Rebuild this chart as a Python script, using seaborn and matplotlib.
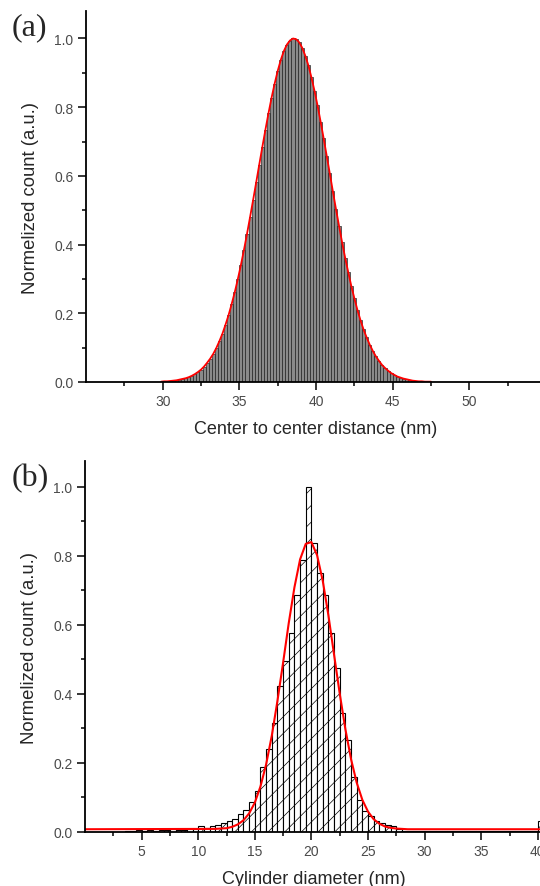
import numpy as np
import pandas as pd
import matplotlib
matplotlib.use('Agg')
import matplotlib.pyplot as plt
from matplotlib.ticker import MultipleLocator, FixedLocator, FormatStrFormatter
import seaborn as sns

# (a) center to center distance, normalized counts in 0.2 nm bins from 29.8 nm
dist_bin_start = 29.8
dist_bin_width = 0.2
dist_counts = [
    0.001, 0.002, 0.002, 0.003, 0.004, 0.005, 0.007, 0.009, 0.011, 0.014,
    0.018, 0.023, 0.029, 0.036, 0.045, 0.056, 0.068, 0.082, 0.099, 0.119,
    0.141, 0.167, 0.195, 0.227, 0.261, 0.299, 0.340, 0.384, 0.431, 0.480,
    0.530, 0.581, 0.633, 0.684, 0.734, 0.782, 0.827, 0.868, 0.905, 0.937,
    0.963, 0.982, 0.994, 1.000, 0.998, 0.989, 0.973, 0.950, 0.922, 0.887,
    0.848, 0.805, 0.758, 0.709, 0.658, 0.607, 0.555, 0.504, 0.455, 0.407,
    0.362, 0.320, 0.280, 0.244, 0.210, 0.180, 0.153, 0.130, 0.109, 0.091,
    0.075, 0.062, 0.050, 0.041, 0.033, 0.026, 0.021, 0.016, 0.013, 0.010,
    0.008, 0.006, 0.004, 0.003, 0.002, 0.002, 0.001, 0.001, 0.001,
]

# (b) cylinder diameter, normalized counts in 0.5 nm bins from 0 nm
diam_bin_start = 0.0
diam_bin_width = 0.5
diam_counts = [
    0.000, 0.000, 0.000, 0.000, 0.000, 0.000, 0.000, 0.003, 0.004, 0.005,
    0.004, 0.006, 0.004, 0.005, 0.005, 0.010, 0.007, 0.006, 0.010, 0.010,
    0.016, 0.013, 0.016, 0.021, 0.026, 0.031, 0.038, 0.052, 0.064, 0.086,
    0.119, 0.188, 0.240, 0.316, 0.423, 0.495, 0.578, 0.688, 0.788, 1.000,
    0.836, 0.751, 0.688, 0.577, 0.476, 0.345, 0.268, 0.160, 0.094, 0.062,
    0.045, 0.031, 0.025, 0.019, 0.016, 0.008, 0.004, 0.003, 0.002, 0.002,
    0.002, 0.003, 0.002, 0.002, 0.003, 0.002, 0.002, 0.003, 0.002, 0.002,
    0.002, 0.002, 0.002, 0.002, 0.002, 0.002, 0.002, 0.002, 0.002, 0.002,
    0.033,
]

# (b) gauss fit (red line)
diam_fit_x = [0, 11.5, 12, 12.5, 13, 13.5, 14, 14.5, 15, 15.5, 16, 16.5, 17, 17.5,
              18, 18.5, 19, 19.5, 20, 20.5, 21, 21.5, 22, 22.5, 23, 23.5, 24,
              24.5, 25, 25.5, 26, 26.5, 27, 27.5, 28, 28.5, 40.5]
diam_fit_y = [0.008, 0.009, 0.010, 0.011, 0.015, 0.022, 0.034, 0.054, 0.085, 0.132,
              0.196, 0.279, 0.380, 0.491, 0.606, 0.709, 0.790, 0.835, 0.840, 0.802,
              0.728, 0.628, 0.514, 0.401, 0.298, 0.211, 0.143, 0.093, 0.059, 0.037,
              0.024, 0.016, 0.012, 0.010, 0.009, 0.008, 0.008]

sns.set_style('ticks')
plt.rcParams['font.family'] = ['Liberation Sans', 'DejaVu Sans']
plt.rcParams['hatch.linewidth'] = 0.5
plt.rcParams['hatch.color'] = '#303030'

fig = plt.figure(figsize=(5.4, 8.87), dpi=100)
ax1 = fig.add_axes([86 / 540, 1 - 383 / 887, 460 / 540, 371 / 887])
ax2 = fig.add_axes([85 / 540, 1 - 833 / 887, 458.5 / 540, 371 / 887])

# panel a
n = len(dist_counts)
a_edges = [dist_bin_start + dist_bin_width * i for i in range(n + 1)]
a_centers = [(a_edges[i] + a_edges[i + 1]) / 2 for i in range(n)]
df_a = pd.DataFrame({'x': a_centers, 'w': dist_counts})
sns.histplot(data=df_a, x='x', weights='w', bins=a_edges, ax=ax1,
             color='#8a8a8a', edgecolor='#1a1a1a', linewidth=0.45, alpha=1)
sns.lineplot(data=df_a, x='x', y='w', ax=ax1, color='red', linewidth=1.3)

# panel b
m = len(diam_counts)
b_edges = [diam_bin_start + diam_bin_width * i for i in range(m + 1)]
b_centers = [(b_edges[i] + b_edges[i + 1]) / 2 for i in range(m)]
df_b = pd.DataFrame({'x': b_centers, 'w': diam_counts})
sns.histplot(data=df_b, x='x', weights='w', bins=b_edges, ax=ax2,
             color='white', edgecolor='black', linewidth=0.8, alpha=1)
for p in ax2.patches:
    p.set_hatch('//')
df_fit = pd.DataFrame({'x': diam_fit_x, 'y': diam_fit_y})
sns.lineplot(data=df_fit, x='x', y='y', ax=ax2, color='red', linewidth=1.5)

ax1.set_xlim(25, 55)
ax1.set_ylim(0, 1.08)
ax1.xaxis.set_major_locator(FixedLocator([30, 35, 40, 45, 50]))
ax1.xaxis.set_minor_locator(FixedLocator([27.5, 32.5, 37.5, 42.5, 47.5, 52.5]))
ax1.set_xlabel('Center to center distance (nm)')

ax2.set_xlim(0, 40.5)
ax2.set_ylim(0, 1.075)
ax2.xaxis.set_major_locator(FixedLocator([5, 10, 15, 20, 25, 30, 35, 40]))
ax2.xaxis.set_minor_locator(FixedLocator([2.5, 7.5, 12.5, 17.5, 22.5, 27.5, 32.5, 37.5]))
ax2.set_xlabel('Cylinder diameter (nm)')

for ax in (ax1, ax2):
    ax.yaxis.set_major_locator(MultipleLocator(0.2))
    ax.yaxis.set_minor_locator(MultipleLocator(0.1))
    ax.yaxis.set_major_formatter(FormatStrFormatter('%.1f'))
    ax.set_ylabel('Normelized count (a.u.)', fontsize=13.3)
    ax.xaxis.label.set_size(13)
    ax.yaxis.set_label_coords(-0.102, 0.5)
    ax.xaxis.labelpad = 8
    for s in ('top', 'right'):
        ax.spines[s].set_visible(False)
    for s in ('left', 'bottom'):
        ax.spines[s].set_linewidth(1.3)
        ax.spines[s].set_color('black')
    ax.tick_params(which='major', direction='out', length=5.5, width=1.1,
                   labelsize=10, labelcolor='#4a4a4a', color='black')
    ax.tick_params(which='minor', direction='out', length=3.2, width=1.1, color='black')

fig.text(12 / 540, 1 - 28 / 887, '(a)', family='Liberation Serif', fontsize=23, va='center')
fig.text(12 / 540, 1 - 479 / 887, '(b)', family='Liberation Serif', fontsize=23, va='center')

fig.savefig('out.png', dpi=100)
